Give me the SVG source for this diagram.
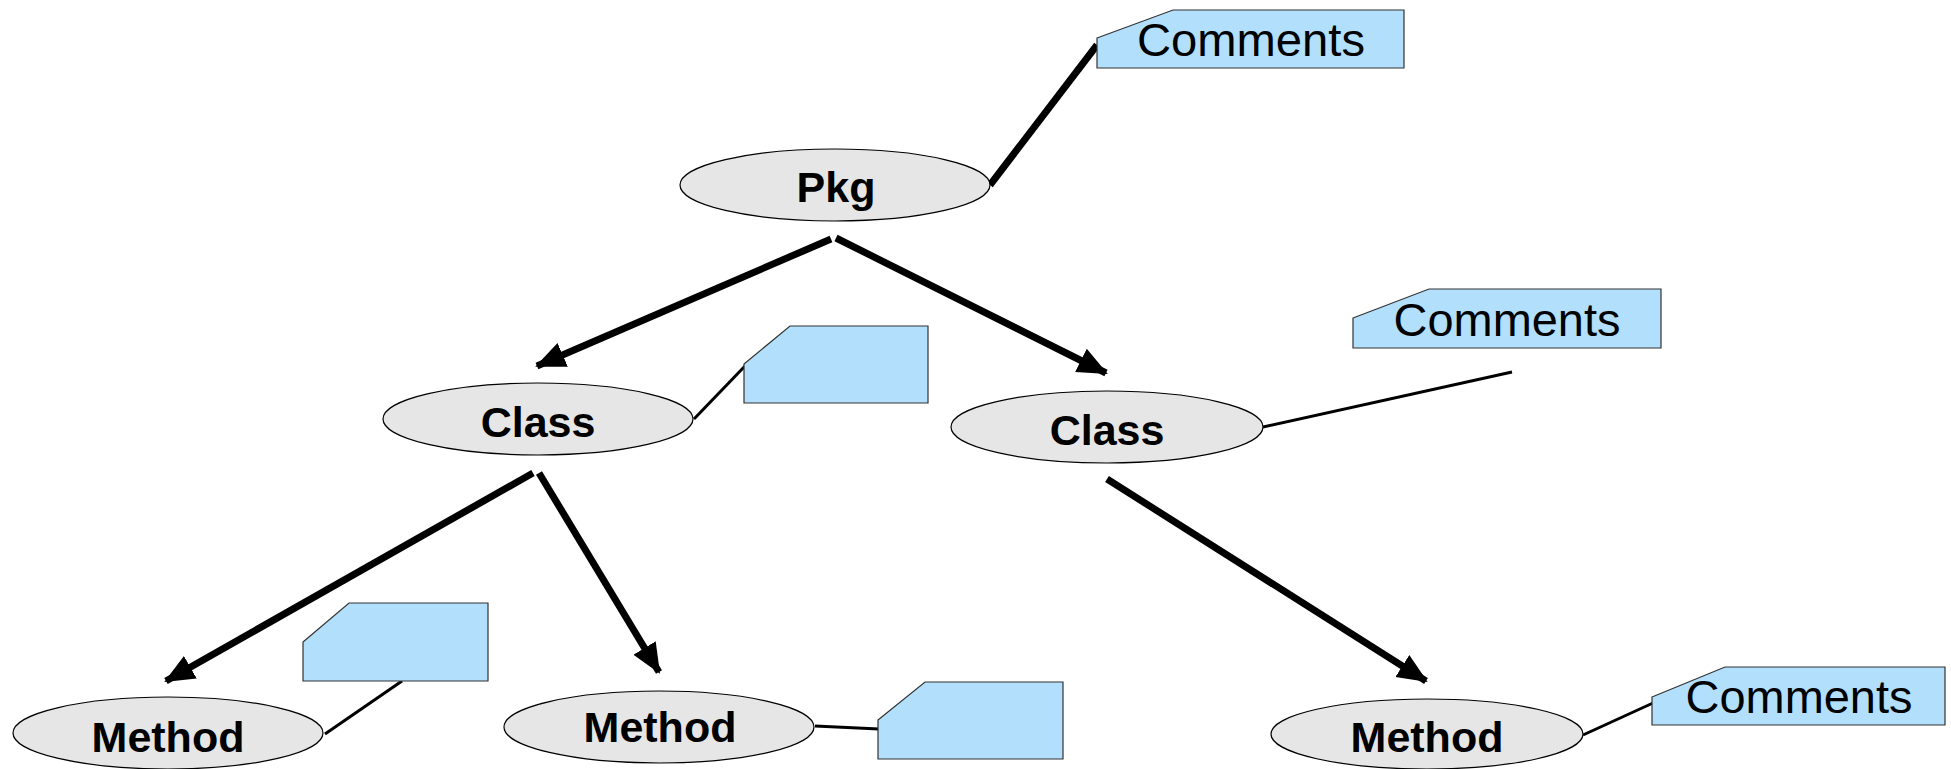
<svg xmlns="http://www.w3.org/2000/svg" width="1951" height="769" viewBox="0 0 1951 769">
<defs>
<style>
.node ellipse{fill:#e6e6e6;stroke:#000;stroke-width:1.2}
.lbl{font-family:"Liberation Sans",Arial,sans-serif;font-weight:bold;font-size:43px;fill:#000;text-anchor:middle}
.note polygon{fill:#b2dffc;stroke:#333;stroke-width:1.2}
.ntxt{font-family:"Liberation Sans",Arial,sans-serif;font-size:46px;fill:#000;text-anchor:middle}
.arrow{stroke:#000;stroke-width:7;fill:none;marker-end:url(#ah)}
.link{stroke:#000;stroke-width:3;fill:none}
.thick{stroke:#000;stroke-width:7;fill:none}
</style>
<marker id="ah" markerUnits="userSpaceOnUse" markerWidth="30" markerHeight="30" viewBox="0 0 30 30" refX="28" refY="15" orient="auto">
<path d="M0,2 L30,15 L0,28 z" fill="#000"/>
</marker>
</defs>
<rect width="1951" height="769" fill="#fff"/>

<g id="connectors">
<line class="arrow" x1="831" y1="239" x2="537" y2="366"/>
<line class="arrow" x1="836" y1="238" x2="1106" y2="373"/>
<line class="arrow" x1="533" y1="473" x2="166" y2="681"/>
<line class="arrow" x1="539" y1="473" x2="659" y2="672"/>
<line class="arrow" x1="1107" y1="479" x2="1426" y2="681"/>
<line class="thick" x1="990" y1="185" x2="1097" y2="45"/>
<line class="link" x1="694" y1="419" x2="745" y2="366"/>
<line class="link" x1="1263" y1="427" x2="1512" y2="372"/>
<line class="link" x1="325" y1="734" x2="402" y2="681"/>
<line class="link" x1="815" y1="726" x2="879" y2="729"/>
<line class="link" x1="1583" y1="735" x2="1653" y2="703"/>
</g>

<g id="pkg" class="node">
<ellipse cx="835" cy="185" rx="155" ry="36"/>
<text class="lbl" x="836" y="202">Pkg</text>
</g>
<g id="class-left" class="node">
<ellipse cx="538" cy="419" rx="155" ry="36"/>
<text class="lbl" x="538" y="437">Class</text>
</g>
<g id="class-right" class="node">
<ellipse cx="1107" cy="427" rx="156" ry="36"/>
<text class="lbl" x="1107" y="445">Class</text>
</g>
<g id="method-left" class="node">
<ellipse cx="168" cy="733" rx="155" ry="36"/>
<text class="lbl" x="168" y="752">Method</text>
</g>
<g id="method-mid" class="node">
<ellipse cx="659" cy="727" rx="155" ry="36"/>
<text class="lbl" x="660" y="742">Method</text>
</g>
<g id="method-right" class="node">
<ellipse cx="1427" cy="734" rx="156" ry="35"/>
<text class="lbl" x="1427" y="752">Method</text>
</g>

<g id="note-pkg" class="note">
<polygon points="1097,38 1173,10 1404,10 1404,68 1097,68"/>
<text class="ntxt" x="1251" y="56" textLength="228" lengthAdjust="spacingAndGlyphs">Comments</text>
</g>
<g id="note-class-right" class="note">
<polygon points="1353,318 1429,289 1661,289 1661,348 1353,348"/>
<text class="ntxt" x="1507" y="336" textLength="227" lengthAdjust="spacingAndGlyphs">Comments</text>
</g>
<g id="note-method-right" class="note">
<polygon points="1652,697 1725,667 1945,667 1945,725 1652,725"/>
<text class="ntxt" x="1799" y="713" textLength="227" lengthAdjust="spacingAndGlyphs">Comments</text>
</g>
<g id="note-class-left" class="note">
<polygon points="744,364 790,326 928,326 928,403 744,403"/>
</g>
<g id="note-method-left" class="note">
<polygon points="303,642 349,603 488,603 488,681 303,681"/>
</g>
<g id="note-method-mid" class="note">
<polygon points="878,720 925,682 1063,682 1063,759 878,759"/>
</g>
</svg>
